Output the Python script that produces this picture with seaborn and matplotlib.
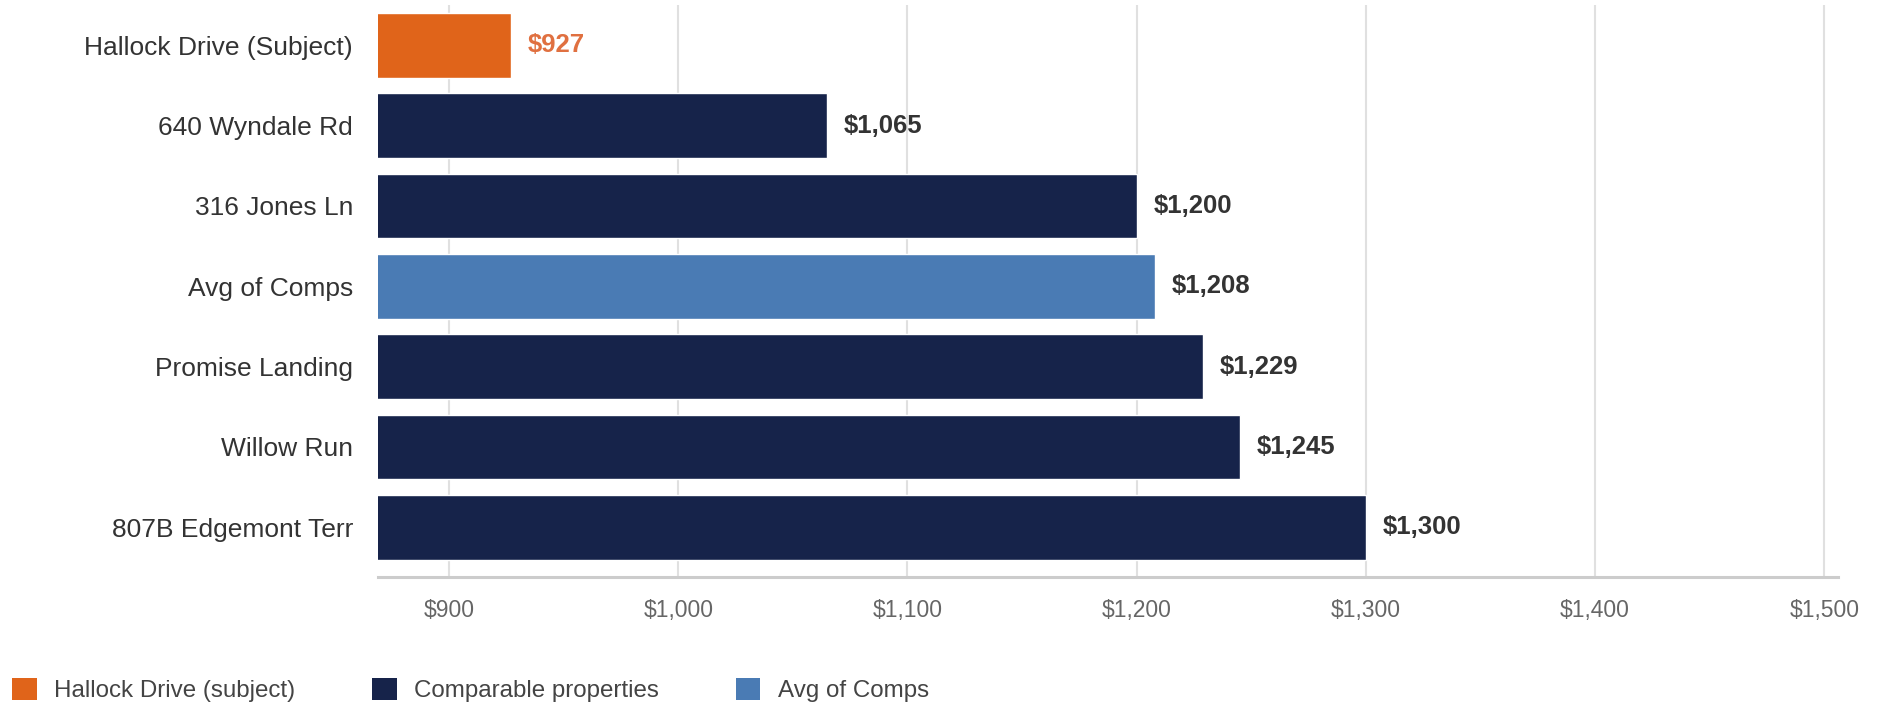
import matplotlib
matplotlib.use("Agg")
import matplotlib.pyplot as plt
import seaborn as sns
import pandas as pd
from matplotlib.patches import Patch

names = ["Hallock Drive (Subject)", "640 Wyndale Rd", "316 Jones Ln", "Avg of Comps",
         "Promise Landing", "Willow Run", "807B Edgemont Terr"]
rents = [927, 1065, 1200, 1208, 1229, 1245, 1300]
groups = ["subject", "comp", "comp", "avg", "comp", "comp", "comp"]
legend_labels = ["Hallock Drive (subject)", "Comparable properties", "Avg of Comps"]
ticks = [900, 1000, 1100, 1200, 1300, 1400, 1500]

colors = {"subject": "#E0641A", "comp": "#16234A", "avg": "#4A7BB4"}

sns.set_theme(style="white")
plt.rcParams['font.family'] = ['Liberation Sans', 'DejaVu Sans']

df = pd.DataFrame({"name": names, "rent": rents, "group": groups})

fig = plt.figure(figsize=(18.77, 7.02), dpi=100)
ax = fig.add_axes([378 / 1877, 1 - 577 / 702, (1838 - 378) / 1877, (577 - 5) / 702])

sns.barplot(data=df, x="rent", y="name", hue="group", palette=colors, dodge=False,
            order=names, hue_order=["subject", "comp", "avg"], width=0.805,
            legend=False, ax=ax, orient="h", saturation=1)

ax.set_xlim(869, 1506)
ax.set_ylim(6.62, -0.5)
ax.set_xticks(ticks)
ax.set_xticklabels([f"${t:,}" for t in ticks], fontsize=16.5, color="#666666")
ax.tick_params(axis="x", length=0, pad=16)
ax.tick_params(axis="y", length=0, pad=18, labelsize=19, labelcolor="#333333")
ax.set_xlabel("")
ax.set_ylabel("")
ax.grid(axis="x", color="#e0e0e0", linewidth=1.5)
ax.set_axisbelow(True)
for s in ["top", "right", "left"]:
    ax.spines[s].set_visible(False)
ax.spines["bottom"].set_color("#cccccc")
ax.spines["bottom"].set_linewidth(2.2)

for cont in ax.containers:
    labs = []
    for bar in cont:
        labs.append(f"${bar.get_width():,.0f}" if bar.get_width() > 0 else "")
    texts = ax.bar_label(cont, labels=labs, padding=12, fontsize=18.5,
                         fontweight="bold", color="#333333")
    for t, bar in zip(texts, cont):
        if abs(bar.get_width() - rents[0]) < 0.01:
            t.set_color("#E07040")

handles = [Patch(facecolor=colors[g], edgecolor="none") for g in ["subject", "comp", "avg"]]
fig.legend(handles, legend_labels, loc="lower left", bbox_to_anchor=(10 / 1877, -0.004),
           ncol=3, frameon=False, fontsize=17.4, handlelength=1.0, handleheight=1.0,
           handletextpad=0.72, columnspacing=3.2, borderpad=0.1, borderaxespad=0,
           labelcolor="#444444")

fig.savefig("out.png", dpi=100, facecolor="white")
